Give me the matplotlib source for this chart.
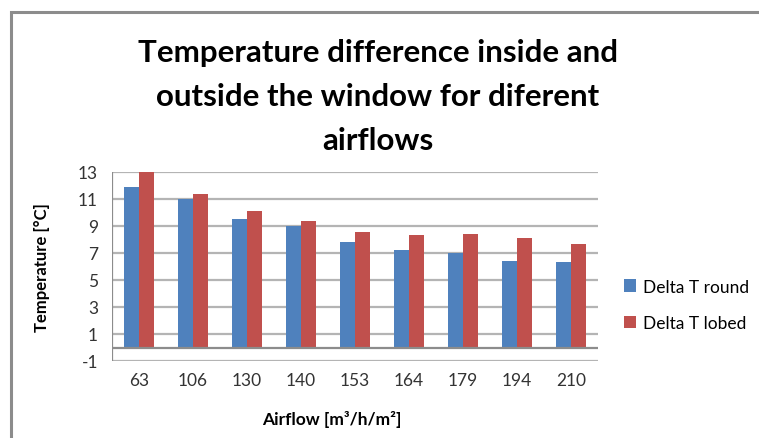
import numpy as np
import matplotlib
matplotlib.use('Agg')
from matplotlib import pyplot as plt
from matplotlib.patches import Rectangle

airflow = ['63', '106', '130', '140', '153', '164', '179', '194', '210']
delta_round = [11.9, 11.0, 9.55, 9.0, 7.85, 7.2, 7.0, 6.4, 6.35]
delta_lobed = [13.0, 11.4, 10.1, 9.35, 8.55, 8.35, 8.4, 8.1, 7.7]
yticks = [-1, 1, 3, 5, 7, 9, 11, 13]

plt.rcParams['font.family'] = ['Lato', 'DejaVu Sans']
plt.rcParams['axes.unicode_minus'] = False

W, H = 759, 439
fig = plt.figure(figsize=(W / 100, H / 100), dpi=100)

# outer chart frame
fig.patches.append(Rectangle((11 / W, -0.1), 0.99, 1 - 13 / H + 0.1, transform=fig.transFigure,
                             fill=False, edgecolor='#8c8c8c', linewidth=2.2))

ax = fig.add_axes([112 / W, 1 - 362 / H, (598 - 112) / W, (362 - 173) / H])
x = np.arange(len(airflow))
bw = 0.272
ax.bar(x - bw / 2, delta_round, bw, color='#4F81BD', label='Delta T round', zorder=3)
ax.bar(x + bw / 2, delta_lobed, bw, color='#C0504D', label='Delta T lobed', zorder=3)

ax.set_xlim(-0.5, len(airflow) - 0.5)
ax.set_ylim(-1, 13)
ax.set_yticks(yticks)
ax.set_xticks(x)
ax.set_xticklabels(airflow)
ax.tick_params(length=0, labelsize=12.5, colors='#333333', pad=8)
ax.tick_params(axis='y', pad=10)
for s in ax.spines.values():
    s.set_visible(False)
for t in yticks:
    ax.axhline(t, color='#b4b4b4', linewidth=1.6, zorder=1)
ax.axhline(0, color='#8c8c8c', linewidth=1.6, zorder=4)
ax.axvline(-0.5, color='#8c8c8c', linewidth=1.6, zorder=4)

fig.text(378 / W, 1 - 97 / H,
         'Temperature difference inside and\noutside the window for diferent\nairflows',
         ha='center', va='center', fontsize=22.5, fontweight='bold', linespacing=1.68)
fig.text(42 / W, 1 - 268 / H, 'Temperature [°C]', rotation=90, ha='center', va='center',
         fontsize=12, fontweight='bold')
fig.text(332 / W, 1 - 420 / H, 'Airflow [m³/h/m²]', ha='center', va='center',
         fontsize=12.5, fontweight='bold')

fig.legend(loc='center left', bbox_to_anchor=(608 / W, 1 - 306 / H), frameon=False,
           fontsize=12.5, handlelength=0.7, handleheight=0.7, handletextpad=0.4,
           labelspacing=1.2)

fig.savefig('out.png', dpi=100)
